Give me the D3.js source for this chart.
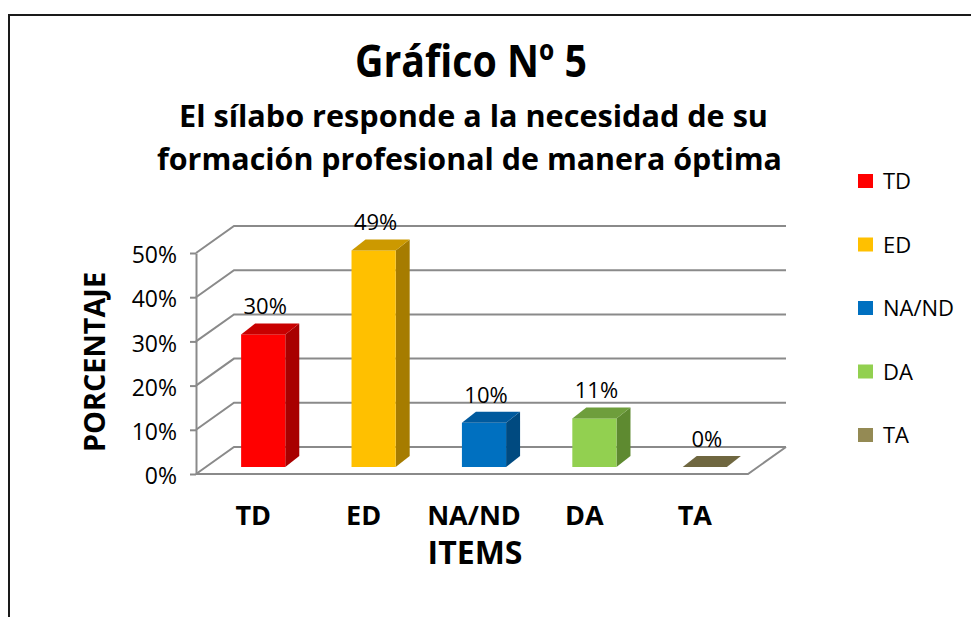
<!DOCTYPE html>
<html>
<head>
<meta charset="utf-8">
<script src="https://cdn.jsdelivr.net/npm/d3@7"></script>
<style>
  body { margin: 0; background: #fff; }
  text { font-family: "Open Sans", "Noto Sans", sans-serif; fill: #000; }
</style>
</head>
<body>
<svg id="chart"></svg>
<script>
// chart data
const categories = ["TD", "ED", "NA/ND", "DA", "TA"];
const values = [0.30, 0.49, 0.10, 0.11, 0.00];
const yTicks = [0, 0.1, 0.2, 0.3, 0.4, 0.5];
const frontColors = ["#FF0000", "#FFC000", "#0070C0", "#92D050", "#948A54"];
const topColors = ["#C80000", "#CC9900", "#005A9E", "#6E9E3C", "#6F6740"];
const sideColors = ["#A80000", "#A67C00", "#004A80", "#5E8A30", "#5A5434"];

const W = 971, H = 617;
const svg = d3.select("#chart").attr("width", W).attr("height", H);

// outer frame (left and top edges only are visible)
svg.append("path")
  .attr("d", "M9,617V15H971")
  .attr("fill", "none")
  .attr("stroke", "#1a1a1a")
  .attr("stroke-width", 2);

// titles
svg.append("text").attr("x", 355).attr("y", 77)
  .attr("font-size", 45).attr("font-weight", "bold")
  .attr("textLength", 232).attr("lengthAdjust", "spacingAndGlyphs")
  .text("Gráfico Nº 5");
svg.append("text").attr("x", 179).attr("y", 127)
  .attr("font-size", 30).attr("font-weight", "bold")
  .attr("textLength", 589).attr("lengthAdjust", "spacingAndGlyphs")
  .text("El sílabo responde a la necesidad de su");
svg.append("text").attr("x", 157).attr("y", 170)
  .attr("font-size", 30).attr("font-weight", "bold")
  .attr("textLength", 625).attr("lengthAdjust", "spacingAndGlyphs")
  .text("formación profesional de manera óptima");

// scales
const x = d3.scaleBand().domain(categories).range([196, 748])
  .paddingInner(0.6).paddingOuter(0.3);
const y = d3.scaleLinear().domain([0, 0.5]).range([474, 253]);
const depth = { dx: 38, dy: -27 };   // back wall offset
const barOff = { dx: 12, dy: -7 };   // bar front offset from floor front
const barDepth = { dx: 14, dy: -11 };
const gridColor = "#8a8a8a";
const pct = d3.format(".0%");

// gridlines: diagonal on the side wall + horizontal on the back wall
const grid = svg.append("g").attr("fill", "none").attr("stroke", gridColor).attr("stroke-width", 2);
grid.selectAll("path.grid")
  .data(yTicks)
  .join("path")
  .attr("class", "grid")
  .attr("d", d => `M196,${y(d)}L${196 + depth.dx},${y(d) + depth.dy}H${748 + depth.dx}`);

// floor
grid.append("path")
  .attr("d", `M196,${y(0)}H748L${748 + depth.dx},${y(0) + depth.dy}`);

// y axis
const yAxis = svg.append("g")
  .attr("transform", "translate(196,0)")
  .call(d3.axisLeft(y).tickValues(yTicks).tickFormat(pct).tickSize(6).tickSizeOuter(0).tickPadding(13));
yAxis.select(".domain").attr("stroke", gridColor).attr("stroke-width", 2);
yAxis.selectAll(".tick line").attr("stroke", gridColor).attr("stroke-width", 2);
yAxis.selectAll(".tick text")
  .attr("font-size", 23).attr("font-family", "'Open Sans', sans-serif").attr("fill", "#000")
  .attr("dy", "0.42em");

// bars
const base = y(0) + barOff.dy;
const bars = svg.append("g").selectAll("g.bar")
  .data(categories.map((c, i) => ({ c, v: values[i], i })))
  .join("g").attr("class", "bar");

bars.each(function(d) {
  const g = d3.select(this);
  const x0 = x(d.c) + barOff.dx;
  const w = x.bandwidth();
  const top = base - (y(0) - y(d.v));
  const bx = barDepth.dx, by = barDepth.dy;
  if (d.v > 0) {
    g.append("path")
      .attr("d", `M${x0 + w},${top}L${x0 + w + bx},${top + by}V${base + by}L${x0 + w},${base}Z`)
      .attr("fill", sideColors[d.i]);
    g.append("rect")
      .attr("x", x0).attr("y", top).attr("width", w).attr("height", base - top)
      .attr("fill", frontColors[d.i]);
  }
  g.append("path")
    .attr("d", `M${x0},${top}L${x0 + bx},${top + by}H${x0 + w + bx}L${x0 + w},${top}Z`)
    .attr("fill", topColors[d.i]);
  g.append("text")
    .attr("x", x0 + w / 2 + 2).attr("y", top - 20)
    .attr("text-anchor", "middle").attr("font-size", 22)
    .text(pct(d.v));
});

// category labels
svg.append("g").selectAll("text")
  .data(categories)
  .join("text")
  .attr("x", d => x(d) + x.bandwidth() / 2 + 2)
  .attr("y", 525)
  .attr("text-anchor", "middle")
  .attr("font-size", 27).attr("font-weight", "bold")
  .text(d => d);

// axis titles
svg.append("text").attr("x", 475).attr("y", 564)
  .attr("text-anchor", "middle").attr("font-size", 32).attr("font-weight", "bold")
  .text("ITEMS");
svg.append("text")
  .attr("transform", "translate(105,362) rotate(-90)")
  .attr("text-anchor", "middle").attr("font-size", 28).attr("font-weight", "bold")
  .attr("textLength", 180).attr("lengthAdjust", "spacingAndGlyphs")
  .text("PORCENTAJE");

// legend
const legend = svg.append("g").selectAll("g")
  .data(categories)
  .join("g")
  .attr("transform", (d, i) => `translate(858,${174 + i * 63.5})`);
legend.append("rect").attr("width", 15).attr("height", 14)
  .attr("fill", (d, i) => frontColors[i]);
legend.append("text").attr("x", 25).attr("y", 15)
  .attr("font-size", 22)
  .text(d => d);
</script>
</body>
</html>
